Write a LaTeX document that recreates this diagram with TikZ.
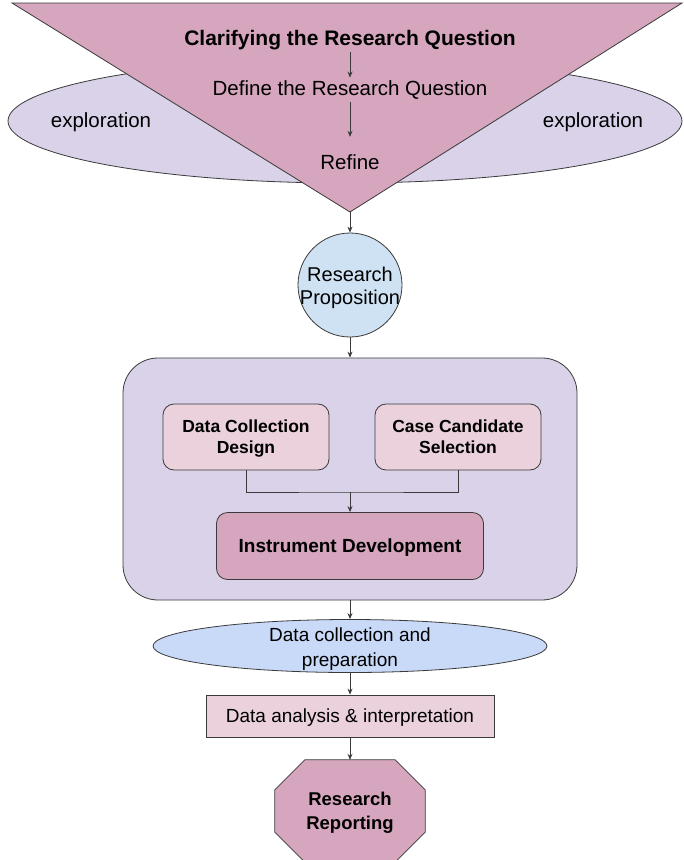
\documentclass[tikz,border=0pt]{standalone}
\usepackage{fontspec}
\setmainfont{Liberation Sans}
\usetikzlibrary{arrows.meta,shapes.geometric,backgrounds,positioning}
\definecolor{mauve}{HTML}{D5A6BD}
\definecolor{lavender}{HTML}{D9D2E9}
\definecolor{paleblue}{HTML}{CFE2F3}
\definecolor{skyblue}{HTML}{C9DAF8}
\definecolor{blush}{HTML}{EAD1DC}
\definecolor{edge}{HTML}{3A3A3A}
\begin{document}
\begin{tikzpicture}[x=1pt,y=-1pt,
		txt/.style={font=\fontsize{20.5}{24}\selectfont,inner sep=3pt,text height=14.5pt,text depth=4pt},
		outline/.style={draw=edge,line width=0.8pt},
		flow/.style={draw=edge,line width=0.8pt,-{Stealth[length=6pt,width=5pt]}},
		card/.style={outline,fill=blush,rounded corners=11pt,minimum width=166pt,minimum height=66pt,align=center,text depth=0pt,font=\bfseries\fontsize{17.5}{21}\selectfont}]
		\useasboundingbox (0,0) rectangle (684,860);
		\node[outline,ellipse,fill=lavender,minimum width=674pt,minimum height=124pt,inner sep=0pt] (explore) at (345,121) {};
		\node[txt] (exleft) at (101,122) {exploration};
		\node[txt] (exright) at (593,122) {exploration};
		\coordinate (tl) at (12,3);
		\coordinate (tr) at (682,3);
		\coordinate (apex) at (350,212);
		\draw[outline,fill=mauve] (tl) -- (tr) -- (apex) -- cycle;
		\node[txt,font=\bfseries\fontsize{21}{24}\selectfont] (clarify) at (350,40) {Clarifying the Research Question};
		\node[txt] (define) at (350,90) {Define the Research Question};
		\node[txt,inner ysep=17.75pt] (refine) at (350,164) {Refine};
		\draw[flow] (clarify) -- (define);
		\draw[flow] (define) -- (refine);
		\node[outline,circle,fill=paleblue,minimum size=104pt,inner sep=0pt] (prop) at (350,285) {};
		\node[align=center,font=\fontsize{20}{23}\selectfont] (proptext) at (350,288) {Research\\Proposition};
		\draw[flow] (apex) -- (prop);
		\node[outline,fill=lavender,rounded corners=35pt,minimum width=454pt,minimum height=242pt] (stage) at (350,479) {};
		\draw[flow] (prop) -- (stage);
		\node[card] (design) at (246,437) {Data Collection\\Design};
		\node[card] (select) at (458,437) {Case Candidate\\Selection};
		\node[card,fill=mauve,minimum width=267pt,minimum height=67pt,font=\bfseries\fontsize{19}{22}\selectfont] (instrument) at (350,546) {Instrument Development};
		\coordinate (join) at (350,492);
		\draw[outline] (design) |- (join) -| (select);
		\draw[flow] (join) -- (instrument);
		\node[outline,ellipse,fill=skyblue,minimum width=394pt,minimum height=53pt,inner sep=0pt] (collect) at (350,646) {};
		\node[align=center,font=\fontsize{19}{25}\selectfont] (collecttext) at (350,649) {Data collection and\\preparation};
		\draw[flow] (stage) -- (collect);
		\node[outline,fill=blush,minimum width=288pt,minimum height=42pt,text depth=0pt,font=\fontsize{19}{22}\selectfont] (analysis) at (350,716) {Data analysis \& interpretation};
		\draw[flow] (collect) -- (analysis);
		\node[minimum width=150pt,minimum height=102pt,align=center,text depth=0pt,font=\bfseries\fontsize{18.5}{24}\selectfont] (report) at (350,811) {Research\\Reporting};
		\begin{scope}[on background layer]
			\draw[outline,fill=mauve] ([xshift=30pt]report.north west) -- ([xshift=-30pt]report.north east) -- ([yshift=-30pt]report.north east) -- ([yshift=30pt]report.south east) -- ([xshift=-30pt]report.south east) -- ([xshift=30pt]report.south west) -- ([yshift=30pt]report.south west) -- ([yshift=-30pt]report.north west) -- cycle;
		\end{scope}
		\draw[flow] (analysis) -- (report);
	\end{tikzpicture}
\end{document}
